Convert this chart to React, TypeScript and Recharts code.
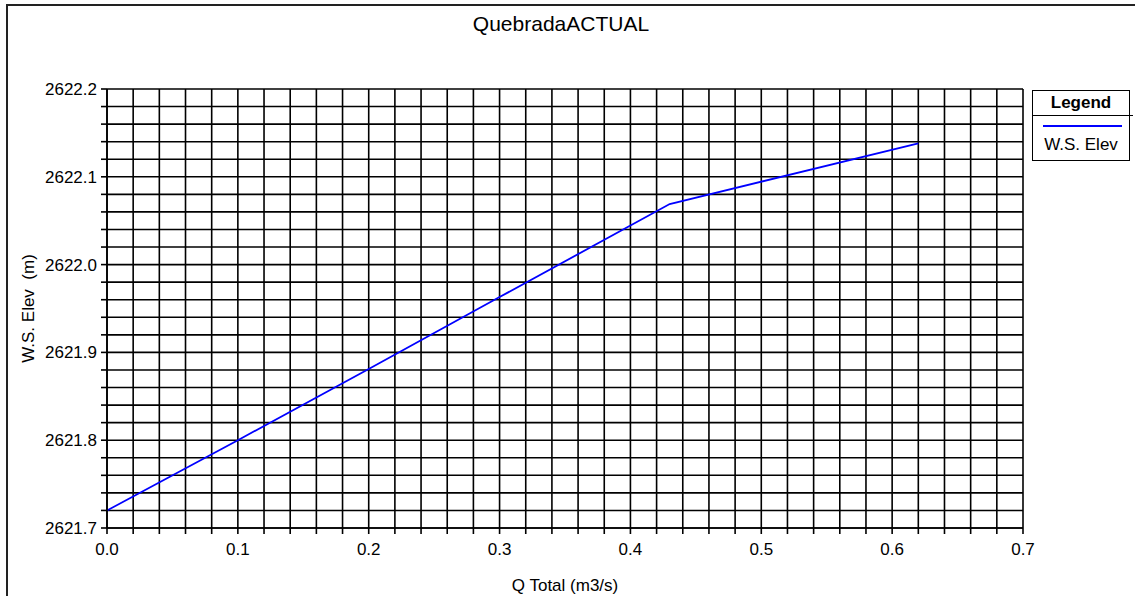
import { CartesianGrid, Line, LineChart, XAxis, YAxis } from 'recharts';

const chartTitle = 'QuebradaACTUAL';
const xTitle = 'Q Total (m3/s)';
const yTitle = 'W.S. Elev\u00a0 (m)';
const seriesName = 'W.S. Elev';

// Q total (m3/s) vs water surface elevation (m)
const qTotal = [0, 0.1, 0.2, 0.3, 0.43, 0.62];
const wsElev = [2621.72, 2621.8, 2621.881, 2621.963, 2622.069, 2622.138];

const xLabels = ['0.0', '0.1', '0.2', '0.3', '0.4', '0.5', '0.6', '0.7'];
const yLabels = ['2621.7', '2621.8', '2621.9', '2622.0', '2622.1', '2622.2'];
const minorStep = 0.02;

const xMin = Number(xLabels[0]);
const xMax = Number(xLabels[xLabels.length - 1]);
const yMin = Number(yLabels[0]);
const yMax = Number(yLabels[yLabels.length - 1]);

function stepTicks(min: number, max: number) {
  const out: number[] = [];
  const n = Math.round((max - min) / minorStep);
  for (let i = 0; i <= n; i++) out.push(Number((min + i * minorStep).toFixed(4)));
  return out;
}

const xTicks = stepTicks(xMin, xMax);
const yTicks = stepTicks(yMin, yMax);

const isMajor = (v: number) => Math.abs(v * 10 - Math.round(v * 10)) < 1e-6;
const fmt = (v: number) => (isMajor(v) ? v.toFixed(1) : '');

const font = '"Liberation Sans", Arial, sans-serif';
const tickStyle = { fontSize: 17, fill: '#000', fontFamily: font };

export default function App() {
  const data = qTotal.map((q, i) => ({ q, ws: wsElev[i] }));

  return (
    <div
      style={{
        position: 'fixed',
        left: 0,
        top: 0,
        width: 1135,
        height: 596,
        overflow: 'hidden',
        background: '#fff',
        fontFamily: font,
        color: '#000',
      }}
    >
      {/* outer frame, only left/top edges are visible */}
      <div
        style={{
          position: 'absolute',
          left: 6,
          top: 4,
          width: 1400,
          height: 900,
          border: '2px solid #222',
        }}
      />
      <div
        style={{
          position: 'absolute',
          left: 0,
          top: 12,
          width: 1122,
          textAlign: 'center',
          fontSize: 21,
        }}
      >
        {chartTitle}
      </div>

      <div style={{ position: 'absolute', left: 0, top: 0 }}>
        <LineChart
          width={1135}
          height={596}
          data={data}
          margin={{ top: 89, right: 112, bottom: 38, left: 0 }}
        >
          <CartesianGrid stroke='#000' strokeWidth={1.6} fill='#fff' />
          <XAxis
            type='number'
            dataKey='q'
            domain={[xMin, xMax]}
            ticks={xTicks}
            interval={0}
            tickFormatter={fmt}
            height={30}
            tickSize={6}
            tickMargin={9}
            tick={tickStyle}
            axisLine={{ stroke: '#000', strokeWidth: 1.6 }}
            tickLine={{ stroke: '#000', strokeWidth: 1.6 }}
            label={{
              value: xTitle,
              position: 'bottom',
              offset: 21,
              style: { fontSize: 17, fill: '#000', fontFamily: font },
            }}
          />
          <YAxis
            type='number'
            domain={[yMin, yMax]}
            ticks={yTicks}
            interval={0}
            tickFormatter={fmt}
            width={107}
            tickSize={6}
            tickMargin={4}
            tick={tickStyle}
            axisLine={{ stroke: '#000', strokeWidth: 1.6 }}
            tickLine={{ stroke: '#000', strokeWidth: 1.6 }}
            label={{
              value: yTitle,
              angle: -90,
              position: 'insideLeft',
              offset: 28,
              style: { fontSize: 17, fill: '#000', fontFamily: font, textAnchor: 'middle' },
            }}
          />
          <Line
            type='linear'
            dataKey='ws'
            name={seriesName}
            stroke='#0000ff'
            strokeWidth={1.8}
            dot={false}
            activeDot={false}
            isAnimationActive={false}
          />
        </LineChart>
      </div>

      {/* legend box */}
      <div
        style={{
          position: 'absolute',
          left: 1032,
          top: 90,
          width: 98,
          height: 71,
          boxSizing: 'border-box',
          border: '1.5px solid #000',
          fontSize: 17,
        }}
      >
        <div
          style={{
            height: 24,
            lineHeight: '24px',
            textAlign: 'center',
            fontWeight: 'bold',
            borderBottom: '1.5px solid #000',
            marginRight: -4,
            paddingRight: 4,
          }}
        >
          Legend
        </div>
        <div
          style={{
            position: 'absolute',
            left: 10,
            top: 34,
            width: 79,
            height: 2,
            background: '#0000ff',
          }}
        />
        <div
          style={{
            position: 'absolute',
            left: 0,
            top: 43,
            width: '100%',
            textAlign: 'center',
            lineHeight: '22px',
          }}
        >
          {seriesName}
        </div>
      </div>
    </div>
  );
}
